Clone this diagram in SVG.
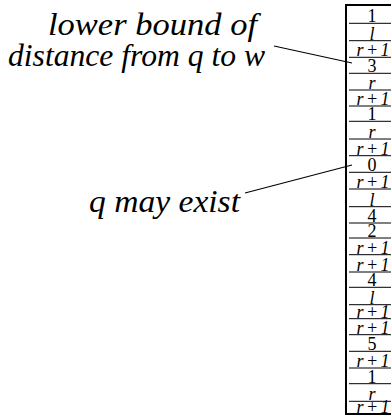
<svg xmlns="http://www.w3.org/2000/svg" width="391" height="418" viewBox="0 0 391 418" font-family="Liberation Serif, DejaVu Serif, serif">
<style>
text{font-family:"Liberation Serif","DejaVu Serif",serif}
.lab{font-style:italic;font-size:32px;fill:#000}
.c{font-size:18px;fill:#000;text-anchor:middle}
.i{font-style:italic}
.row{stroke:#000;stroke-width:1}
.lead{stroke:#000;stroke-width:1.1;fill:none}
</style>
<rect width="391" height="418" fill="#fff"/>
<g id="label-lower-bound">
<text class="lab" x="48" y="35" textLength="209" lengthAdjust="spacingAndGlyphs">lower bound of</text>
<text class="lab" x="8" y="66" textLength="257" lengthAdjust="spacingAndGlyphs">distance from q to w</text>
</g>
<g id="label-q-may-exist">
<text class="lab" x="89" y="212" textLength="151" lengthAdjust="spacingAndGlyphs">q may exist</text>
</g>
<g id="connectors">
<line class="lead" x1="274" y1="46" x2="352" y2="63"/>
<line class="lead" x1="245" y1="193" x2="352" y2="165"/>
</g>
<g id="column">
<rect x="346" y="5" width="100" height="409" fill="none" stroke="#000" stroke-width="2"/>
<g class="rows">
<line class="row" x1="349" y1="23.3" x2="391" y2="23.3"/>
<line class="row" x1="349" y1="40.7" x2="391" y2="40.7"/>
<line class="row" x1="349" y1="57.3" x2="391" y2="57.3"/>
<line class="row" x1="349" y1="73.3" x2="391" y2="73.3"/>
<line class="row" x1="349" y1="90" x2="391" y2="90"/>
<line class="row" x1="349" y1="106" x2="391" y2="106"/>
<line class="row" x1="349" y1="121.3" x2="391" y2="121.3"/>
<line class="row" x1="349" y1="139" x2="391" y2="139"/>
<line class="row" x1="349" y1="155.7" x2="391" y2="155.7"/>
<line class="row" x1="349" y1="172.3" x2="391" y2="172.3"/>
<line class="row" x1="349" y1="189" x2="391" y2="189"/>
<line class="row" x1="349" y1="206.7" x2="391" y2="206.7"/>
<line class="row" x1="349" y1="223" x2="391" y2="223"/>
<line class="row" x1="349" y1="238" x2="391" y2="238"/>
<line class="row" x1="349" y1="254.7" x2="391" y2="254.7"/>
<line class="row" x1="349" y1="272" x2="391" y2="272"/>
<line class="row" x1="349" y1="287.3" x2="391" y2="287.3"/>
<line class="row" x1="349" y1="304.7" x2="391" y2="304.7"/>
<line class="row" x1="349" y1="318.7" x2="391" y2="318.7"/>
<line class="row" x1="349" y1="334.7" x2="391" y2="334.7"/>
<line class="row" x1="349" y1="351.3" x2="391" y2="351.3"/>
<line class="row" x1="349" y1="368" x2="391" y2="368"/>
<line class="row" x1="349" y1="383.7" x2="391" y2="383.7"/>
<line class="row" x1="349" y1="401.3" x2="391" y2="401.3"/>
</g>
<g class="cells">
<text class="c" x="372" y="22">1</text>
<text class="c i" x="372" y="39.5">l</text>
<text class="c i" x="373" y="56" textLength="33" lengthAdjust="spacing">r+1</text>
<text class="c" x="372" y="72.3">3</text>
<text class="c i" x="372" y="89">r</text>
<text class="c i" x="373" y="105" textLength="33" lengthAdjust="spacing">r+1</text>
<text class="c" x="372" y="120.3">1</text>
<text class="c i" x="372" y="138">r</text>
<text class="c i" x="373" y="154.7" textLength="33" lengthAdjust="spacing">r+1</text>
<text class="c" x="372" y="171.3">0</text>
<text class="c i" x="373" y="188" textLength="33" lengthAdjust="spacing">r+1</text>
<text class="c i" x="372" y="205.7">l</text>
<text class="c" x="372" y="222">4</text>
<text class="c" x="372" y="237">2</text>
<text class="c i" x="373" y="253.7" textLength="33" lengthAdjust="spacing">r+1</text>
<text class="c i" x="373" y="271" textLength="33" lengthAdjust="spacing">r+1</text>
<text class="c" x="372" y="286.3">4</text>
<text class="c i" x="372" y="303.7">l</text>
<text class="c i" x="373" y="317.7" textLength="33" lengthAdjust="spacing">r+1</text>
<text class="c i" x="373" y="333.7" textLength="33" lengthAdjust="spacing">r+1</text>
<text class="c" x="372" y="350.3">5</text>
<text class="c i" x="373" y="367" textLength="33" lengthAdjust="spacing">r+1</text>
<text class="c" x="372" y="382.7">1</text>
<text class="c i" x="372" y="400.3">r</text>
<text class="c i" x="373" y="412.5" textLength="33" lengthAdjust="spacing">r+1</text>
</g>
</g>
</svg>
